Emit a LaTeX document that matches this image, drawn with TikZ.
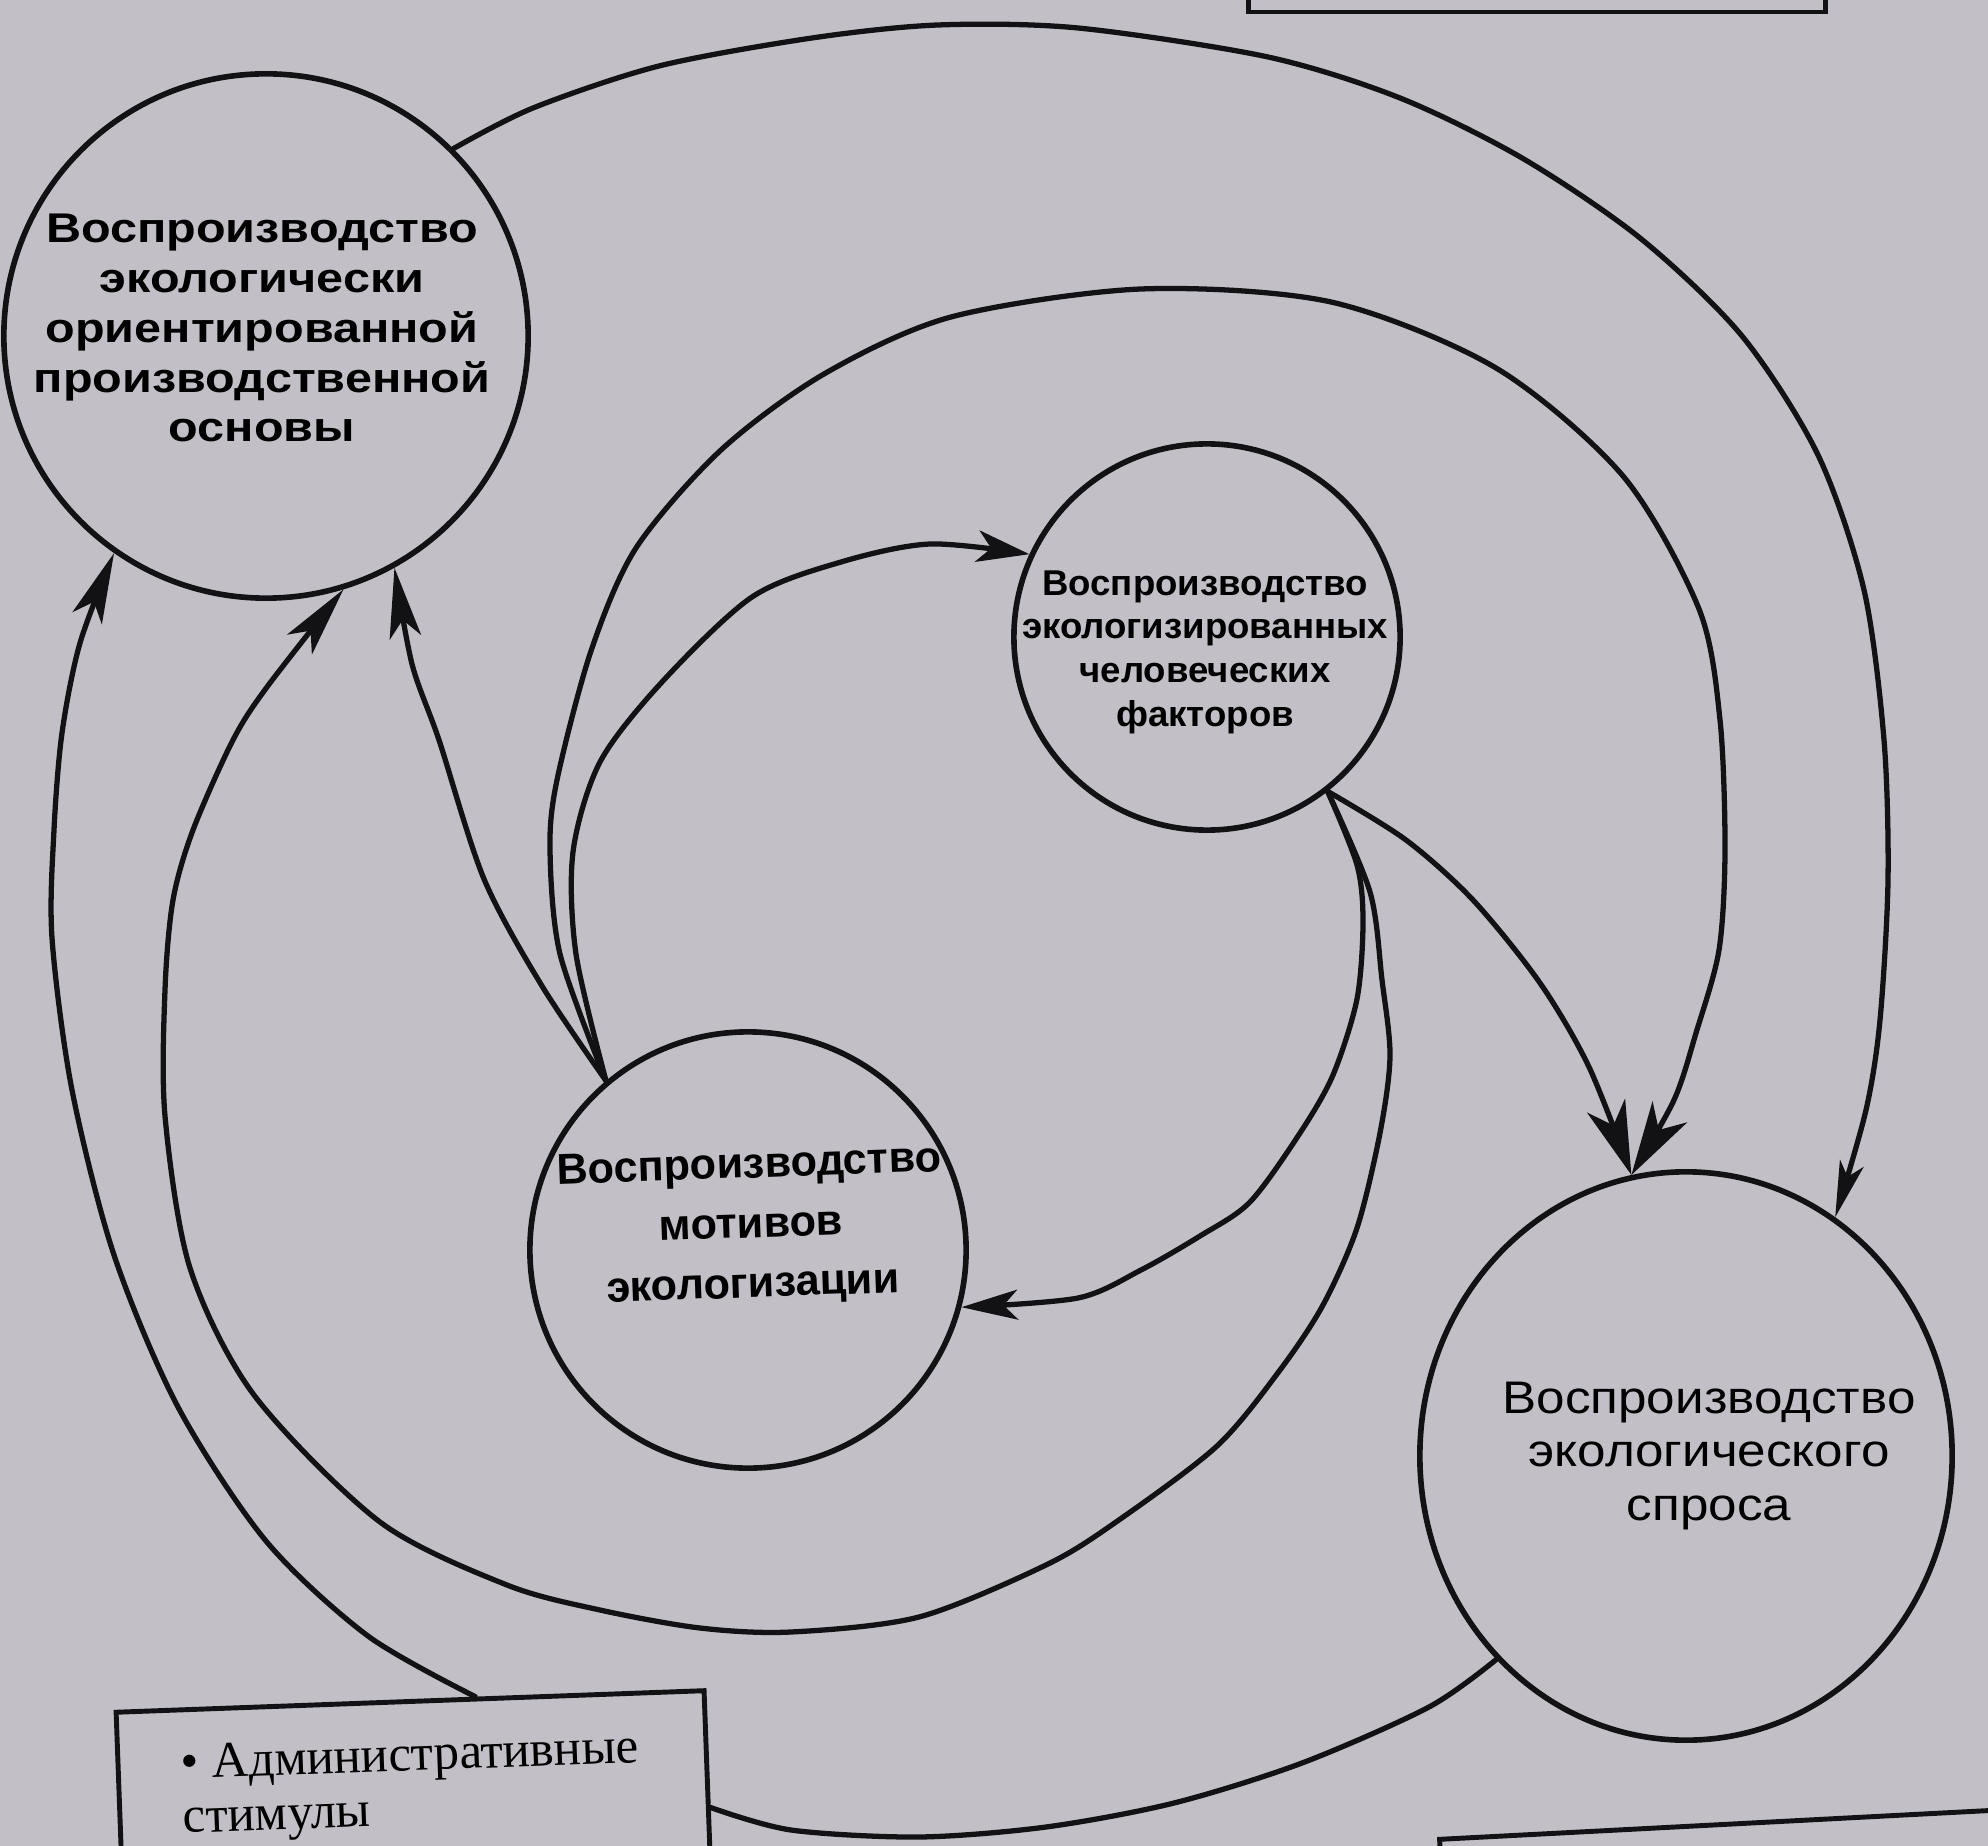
\documentclass[tikz,border=0pt]{standalone}
\usepackage{fontspec}
\setmainfont{Liberation Serif}
\newfontfamily\fA{Liberation Sans}[FakeStretch=1.17]
\newfontfamily\fB{Liberation Sans}[FakeStretch=1.02]
\newfontfamily\fC{Liberation Sans}
\newfontfamily\fD{Liberation Sans}[FakeStretch=1.12]
\usetikzlibrary{arrows.meta,shapes.geometric,calc}
\definecolor{paper}{RGB}{194,192,198}
\definecolor{ink}{RGB}{18,18,20}
\begin{document}
\begin{tikzpicture}[x=0.01cm,y=-0.01cm,
  conn/.style={line width=1.5pt, draw=ink, line join=round, line cap=round},
  ring/.style={circle, draw=ink, line width=1.6pt, inner sep=0pt},
  frame/.style={draw=ink, line width=1.4pt, inner sep=0pt},
  tipA/.style={-{Stealth[length=20pt,width=9pt,inset=5pt]}},
  tipOut/.style={-{Stealth[length=16pt,width=7pt,inset=4pt]}},
  tipD/.style={-{Stealth[length=21pt,width=11.5pt,inset=6pt]}},
  tipB/.style={-{Stealth[length=15pt,width=9pt,inset=4pt]}},
  tipC/.style={-{Stealth[length=16pt,width=8.5pt,inset=4pt]}}]
\fill[paper] (0,0) rectangle (1988,1846);
\useasboundingbox (0,0) rectangle (1988,1846);
\clip (0,0) rectangle (1988,1846);

% frames
\node[frame, minimum width=5.77cm, minimum height=1.12cm] (topbox) at (1537,-44) {};
\node[frame, rotate=3, anchor=north west, minimum width=7cm, minimum height=1.5cm] (brbox) at (1437,1837) {};
\node[frame, rotate=2.1, anchor=north, minimum width=5.88cm, minimum height=2.34cm] (box) at (410,1699) {};
\node[rotate=2.1, anchor=base west, inner sep=0pt, font=\fontsize{14.5}{17}\selectfont] (bt1) at (181,1779) {• Административные};
\node[rotate=2.1, anchor=base west, inner sep=0pt, font=\fontsize{14.5}{17}\selectfont] (bt2) at (183,1833) {стимулы};
\coordinate (boxtop) at ($(box.north west)!0.61!(box.north east)$);

% circles
\node[ring, minimum size=5.24cm] (A) at (266,336) {};
\node[ring, minimum size=3.86cm] (B) at (1207,637) {};
\node[ring, minimum size=4.36cm] (C) at (748,1250) {};
\node[ellipse, draw=ink, line width=1.6pt, inner sep=0pt, minimum width=5.32cm, minimum height=5.68cm] (D) at (1686,1456) {};

\node[align=center, font=\fA\bfseries\fontsize{11.8}{14.2}\selectfont] (At) at (262,328)
  {Воспроизводство\\экологически\\ориентированной\\производственной\\основы};
\node[align=center, font=\fB\bfseries\fontsize{10.2}{12.4}\selectfont] (Bt) at (1205,652)
  {Воспроизводство\\экологизированных\\человеческих\\факторов};
\node[rotate=2, align=center, font=\fC\bfseries\fontsize{12.3}{17}\selectfont] (Ct) at (751,1227)
  {Воспроизводство\\мотивов\\экологизации};
\node[align=center, font=\fD\fontsize{13}{15.2}\selectfont] (Dt) at (1709,1456)
  {Воспроизводство\\экологического\\спроса};

% connectors
\draw[conn, tipOut] plot[smooth] coordinates {(A.45) (533,108) (659,66) (812,38) (938,25) (1078,28) (1268,57) (1400,98) (1522,158) (1640,238) (1742,336) (1818,455) (1864,590) (1884,740) (1888,880) (1880,1020) (1866,1110) (D.58)};

\draw[conn, tipA] plot[smooth] coordinates {(boxtop) (368,1636) (266,1541) (178,1407) (114,1255) (72,1090) (52,938) (54,830) (62,733) (80,643) (A.235)};

\draw[conn, tipA] plot[smooth] coordinates {(C.130) (542,986) (484,879) (439,740) (412,664) (A.299)};

\draw[conn, tipA] plot[smooth] coordinates {(B.308) (1370,892) (1382,980) (1390,1056) (1380,1133) (1357,1228) (1323,1305) (1280,1370) (1217,1446) (1116,1522) (1046,1565) (919,1617) (791,1632) (700,1628) (600,1610) (507,1585) (380,1522) (254,1395) (190,1268) (165,1116) (165,990) (173,900) (193,830) (233,740) (267,687) (A.287)};

\draw[conn, tipC] plot[smooth] coordinates {(B.308) (1357,865) (1363,922) (1357,999) (1333,1075) (1300,1133) (1250,1202) (1200,1236) (1141,1270) (1078,1298) (C.-15)};

\draw[conn, tipD] plot[smooth] coordinates {(B.308) (1406,840) (1473,900) (1540,983) (1589,1067) (D.101)};

\draw[conn, tipD] plot[smooth] coordinates {(C.130) (560,954) (550,850) (557,780) (591,651) (636,548) (721,450) (824,374) (951,317) (1141,289) (1331,302) (1496,368) (1623,476) (1699,609) (1720,720) (1725,850) (1719,950) (1696,1033) (1674,1100) (D.101)};

\draw[conn, tipB] plot[smooth] coordinates {(C.130) (576,954) (573,852) (600,762) (662,682) (752,597) (841,562) (930,544) (B.155)};

\draw[conn] plot[smooth] coordinates {(D.227) (1429,1707) (1302,1763) (1174,1803) (1046,1827) (919,1837) (791,1830) (box.east)};
\end{tikzpicture}
\end{document}
